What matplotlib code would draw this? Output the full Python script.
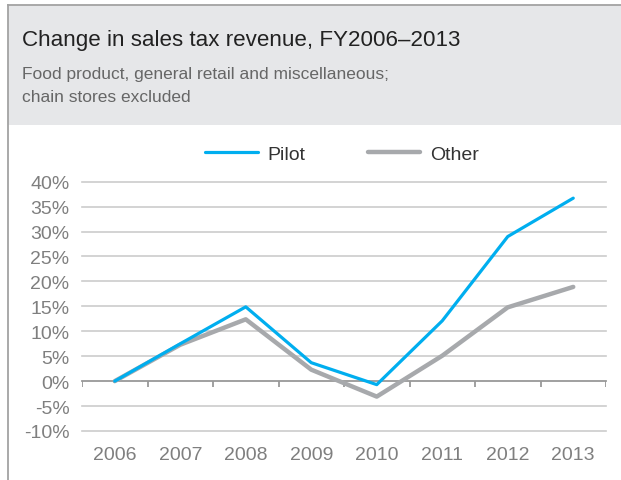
import numpy as np
import matplotlib.pyplot as plt
from matplotlib.patches import Rectangle
from matplotlib.lines import Line2D

plt.rcParams['font.family'] = ['Liberation Sans', 'DejaVu Sans']

years = ["2006", "2007", "2008", "2009", "2010", "2011", "2012", "2013"]
pilot = [0.0, 7.5, 14.9, 3.7, -0.7, 12.1, 29.0, 36.7]
other = [0.0, 7.3, 12.4, 2.3, -3.1, 5.1, 14.8, 18.9]
yticks = [-10, -5, 0, 5, 10, 15, 20, 25, 30, 35, 40]

W, H = 621, 481
fig = plt.figure(figsize=(W / 100, H / 100), dpi=100)

# header band and frame
fig.patches.append(Rectangle((8 / W, 1 - 126 / H), 1, 120 / H, transform=fig.transFigure,
                             facecolor="#e6e7e9", edgecolor="none", zorder=0))
fig.add_artist(Line2D([8 / W, 1], [1 - 5.5 / H, 1 - 5.5 / H], color="#a3a3a3", lw=1.3))
fig.add_artist(Line2D([8 / W, 8 / W], [0, 1 - 5.5 / H], color="#a3a3a3", lw=1.3))

fig.text(22 / W, 1 - 45.7 / H, "Change in sales tax revenue, FY2006\u20132013",
         fontsize=16.1, color="#222222", va="baseline", ha="left")
fig.text(22 / W, 1 - 79.3 / H, "Food product, general retail and miscellaneous;",
         fontsize=12.5, color="#666666", va="baseline", ha="left")
fig.text(22 / W, 1 - 102.3 / H, "chain stores excluded",
         fontsize=12.5, color="#666666", va="baseline", ha="left")

ax = fig.add_axes([82 / W, 1 - 432 / H, (606 - 82) / W, (432 - 182.7) / H])
x = np.arange(len(years))
ax.set_xlim(-0.5, len(years) - 0.5)
ax.set_ylim(-10, 40)

for v in yticks:
    if v != 0:
        ax.axhline(v, color="#cccccc", lw=1.2, zorder=1, clip_on=False)
ax.axhline(0, color="#999999", lw=1.3, zorder=2, clip_on=False)
ax.vlines(np.arange(len(years) + 1) - 0.5, -1.2, 0, color="#999999", lw=1.3, zorder=2)

ax.plot(x, other, color="#a7a9ac", lw=3.2, solid_capstyle="round", zorder=3, label="Other")
ax.plot(x, pilot, color="#00aeef", lw=2.3, solid_capstyle="round", zorder=4, label="Pilot")

ax.set_yticks(yticks)
ax.set_yticklabels([f"{v}%" for v in yticks])
ax.set_xticks(x)
ax.set_xticklabels(years)
ax.tick_params(length=0, labelsize=14, labelcolor="#7f7f7f")
ax.tick_params(axis="y", pad=9)
ax.tick_params(axis="x", pad=11)
for s in ax.spines.values():
    s.set_visible(False)

h, l = ax.get_legend_handles_labels()
leg = ax.legend(h[::-1], l[::-1], loc="center", bbox_to_anchor=(0.5 - 0.004, 1 + 28 / 249.3),
                ncol=2, frameon=False, fontsize=14, handlelength=2.7, handletextpad=0.5,
                columnspacing=3.2)
for t in leg.get_texts():
    t.set_color("#333333")

fig.savefig("out.png", dpi=100)
